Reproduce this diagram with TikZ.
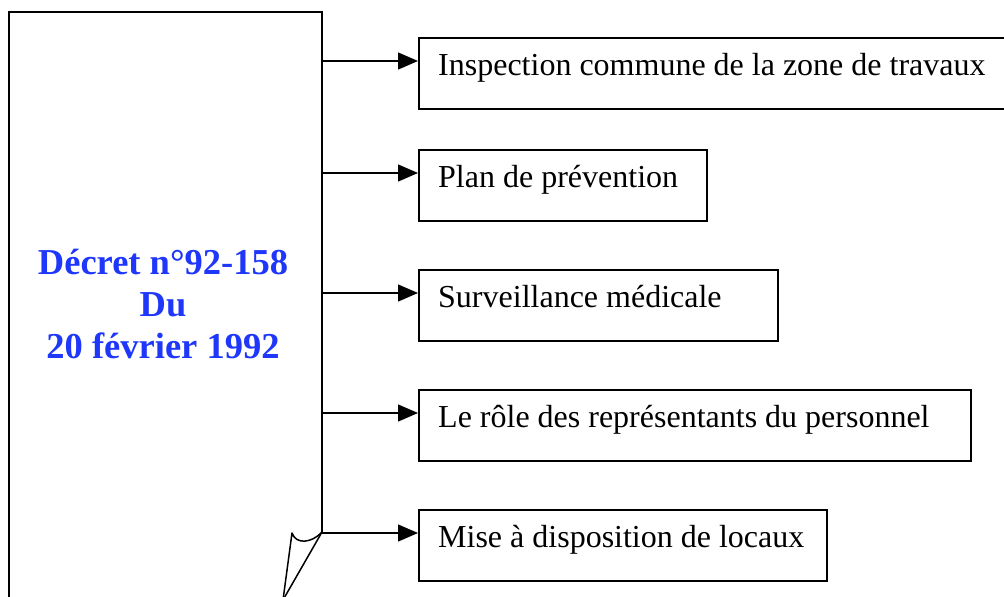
\documentclass[tikz,border=0pt]{standalone}
\usepackage{fontspec}
\setmainfont{Liberation Serif}
\usetikzlibrary{arrows.meta}
\definecolor{decretblue}{RGB}{30,55,250}
\begin{document}
\begin{tikzpicture}[x=1pt,y=-1pt,
  frame/.style={draw=black,line width=1.5pt},
  itembox/.style={draw=black,line width=1.5pt,anchor=north west,inner sep=0pt,minimum height=71pt},
  itemtext/.style={anchor=base west,inner sep=0pt,font=\fontsize{32}{38}\selectfont},
  arr/.style={line width=1.3pt,-{Triangle[length=20pt,width=17pt]}}]
\useasboundingbox (0,0) rectangle (1004,597);

% Decree sheet with its curled bottom corner
\draw[frame,line join=miter] (322,532) -- (322,12) -- (9,12) -- (9,600);
\draw[frame,line join=round] (322,532) -- (283,600);
\draw[frame,line join=round] (283,600) -- (292,533) .. controls (296,545) and (312,543) .. (322,532);
\node[align=center,text=decretblue,font=\bfseries\fontsize{36.5}{42}\selectfont] (decret)
  at (163,304) {Décret n°92-158\\Du\\20 février 1992};

% Branch points on the right edge of the sheet
\coordinate (s1) at (322,61);
\coordinate (s2) at (322,173);
\coordinate (s3) at (322,293);
\coordinate (s4) at (322,413);
\coordinate (s5) at (322,533);

% Measures
\node[itembox,minimum width=588pt] (b1) at (418,37) {};
\node[itembox,minimum width=288pt] (b2) at (418,149) {};
\node[itembox,minimum width=359pt] (b3) at (418,269) {};
\node[itembox,minimum width=552pt] (b4) at (418,389) {};
\node[itembox,minimum width=408pt] (b5) at (418,509) {};

\node[itemtext] (t1) at (438,75) {Inspection commune de la zone de travaux};
\node[itemtext] (t2) at (438,187) {Plan de prévention};
\node[itemtext] (t3) at (438,307) {Surveillance médicale};
\node[itemtext] (t4) at (438,427) {Le rôle des représentants du personnel};
\node[itemtext] (t5) at (438,547) {Mise à disposition de locaux};

\foreach \i in {1,...,5}
  \draw[arr] (s\i) -- (s\i -| b\i.west);
\end{tikzpicture}
\end{document}
